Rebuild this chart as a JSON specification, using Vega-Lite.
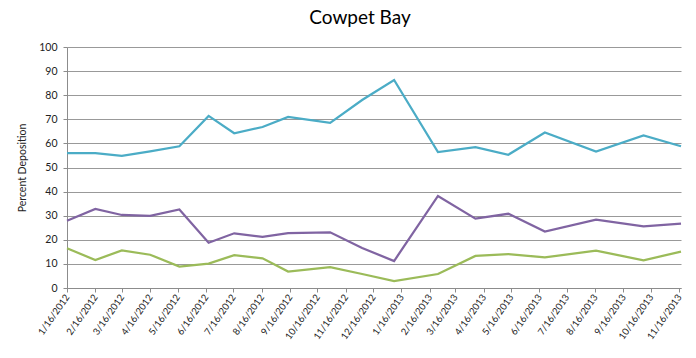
{
  "$schema": "https://vega.github.io/schema/vega-lite/v6.json",
  "autosize": "none",
  "width": 614,
  "height": 241,
  "padding": {"left": 67, "top": 47, "right": 15, "bottom": 70},
  "background": "white",
  "title": {"text": "Cowpet Bay", "font": "Lato", "fontSize": 19, "fontWeight": "normal", "color": "#000000", "anchor": "middle", "offset": 14, "dx": -14},
  "config": {"view": {"stroke": null}},
  "data": {"values": [
    {"date": "2012/01/16", "series": "S1", "value": 56.0},
    {"date": "2012/02/16", "series": "S1", "value": 56.0},
    {"date": "2012/03/16", "series": "S1", "value": 54.8},
    {"date": "2012/04/16", "series": "S1", "value": 56.7},
    {"date": "2012/05/18", "series": "S1", "value": 58.8},
    {"date": "2012/06/19", "series": "S1", "value": 71.4},
    {"date": "2012/07/17", "series": "S1", "value": 64.2},
    {"date": "2012/08/17", "series": "S1", "value": 66.8},
    {"date": "2012/09/14", "series": "S1", "value": 71.0},
    {"date": "2012/10/30", "series": "S1", "value": 68.5},
    {"date": "2012/12/04", "series": "S1", "value": 78.0},
    {"date": "2013/01/08", "series": "S1", "value": 86.3},
    {"date": "2013/02/25", "series": "S1", "value": 56.4},
    {"date": "2013/04/07", "series": "S1", "value": 58.4},
    {"date": "2013/05/13", "series": "S1", "value": 55.3},
    {"date": "2013/06/22", "series": "S1", "value": 64.5},
    {"date": "2013/08/17", "series": "S1", "value": 56.6},
    {"date": "2013/10/08", "series": "S1", "value": 63.3},
    {"date": "2013/11/18", "series": "S1", "value": 58.8},
    {"date": "2012/01/16", "series": "S2", "value": 27.9},
    {"date": "2012/02/16", "series": "S2", "value": 32.8},
    {"date": "2012/03/16", "series": "S2", "value": 30.3},
    {"date": "2012/04/16", "series": "S2", "value": 29.9},
    {"date": "2012/05/18", "series": "S2", "value": 32.6},
    {"date": "2012/06/19", "series": "S2", "value": 18.8},
    {"date": "2012/07/17", "series": "S2", "value": 22.7},
    {"date": "2012/08/17", "series": "S2", "value": 21.2},
    {"date": "2012/09/14", "series": "S2", "value": 22.8},
    {"date": "2012/10/30", "series": "S2", "value": 23.1},
    {"date": "2012/12/04", "series": "S2", "value": 16.6},
    {"date": "2013/01/08", "series": "S2", "value": 11.2},
    {"date": "2013/02/25", "series": "S2", "value": 38.2},
    {"date": "2013/04/07", "series": "S2", "value": 28.8},
    {"date": "2013/05/13", "series": "S2", "value": 30.8},
    {"date": "2013/06/22", "series": "S2", "value": 23.4},
    {"date": "2013/08/17", "series": "S2", "value": 28.4},
    {"date": "2013/10/08", "series": "S2", "value": 25.6},
    {"date": "2013/11/18", "series": "S2", "value": 26.7},
    {"date": "2012/01/16", "series": "S3", "value": 16.5},
    {"date": "2012/02/16", "series": "S3", "value": 11.6},
    {"date": "2012/03/16", "series": "S3", "value": 15.6},
    {"date": "2012/04/16", "series": "S3", "value": 13.8},
    {"date": "2012/05/18", "series": "S3", "value": 8.9},
    {"date": "2012/06/19", "series": "S3", "value": 10.1},
    {"date": "2012/07/17", "series": "S3", "value": 13.6},
    {"date": "2012/08/17", "series": "S3", "value": 12.3},
    {"date": "2012/09/14", "series": "S3", "value": 6.8},
    {"date": "2012/10/30", "series": "S3", "value": 8.7},
    {"date": "2012/12/04", "series": "S3", "value": 5.8},
    {"date": "2013/01/08", "series": "S3", "value": 2.9},
    {"date": "2013/02/25", "series": "S3", "value": 5.8},
    {"date": "2013/04/07", "series": "S3", "value": 13.3},
    {"date": "2013/05/13", "series": "S3", "value": 14.1},
    {"date": "2013/06/22", "series": "S3", "value": 12.7},
    {"date": "2013/08/17", "series": "S3", "value": 15.5},
    {"date": "2013/10/08", "series": "S3", "value": 11.5},
    {"date": "2013/11/18", "series": "S3", "value": 15.1}
  ]},
  "mark": {"type": "line", "strokeWidth": 2.25, "strokeJoin": "miter", "strokeCap": "butt"},
  "encoding": {
    "x": {
      "field": "date", "type": "temporal",
      "scale": {"domain": [{"year": 2012, "month": 1, "date": 16}, {"year": 2013, "month": 11, "date": 18}]},
      "axis": {
        "title": null,
        "grid": false,
        "values": [
          {"year": 2012, "month": 1, "date": 16}, {"year": 2012, "month": 2, "date": 16}, {"year": 2012, "month": 3, "date": 16},
          {"year": 2012, "month": 4, "date": 16}, {"year": 2012, "month": 5, "date": 16}, {"year": 2012, "month": 6, "date": 16},
          {"year": 2012, "month": 7, "date": 16}, {"year": 2012, "month": 8, "date": 16}, {"year": 2012, "month": 9, "date": 16},
          {"year": 2012, "month": 10, "date": 16}, {"year": 2012, "month": 11, "date": 16}, {"year": 2012, "month": 12, "date": 16},
          {"year": 2013, "month": 1, "date": 16}, {"year": 2013, "month": 2, "date": 16}, {"year": 2013, "month": 3, "date": 16},
          {"year": 2013, "month": 4, "date": 16}, {"year": 2013, "month": 5, "date": 16}, {"year": 2013, "month": 6, "date": 16},
          {"year": 2013, "month": 7, "date": 16}, {"year": 2013, "month": 8, "date": 16}, {"year": 2013, "month": 9, "date": 16},
          {"year": 2013, "month": 10, "date": 16}, {"year": 2013, "month": 11, "date": 16}
        ],
        "format": "%-m/%-d/%Y",
        "labelAngle": -55,
        "labelFont": "Lato",
        "labelFontSize": 9.5,
        "labelColor": "#222222",
        "labelPadding": 3,
        "labelOverlap": false,
        "labelFlush": false,
        "domainColor": "#8c8c8c",
        "tickColor": "#8c8c8c",
        "tickSize": 4
      }
    },
    "y": {
      "field": "value", "type": "quantitative",
      "scale": {"domain": [0, 100], "nice": false},
      "axis": {
        "title": "Percent Deposition",
        "titleFont": "Lato",
        "titleFontSize": 10.5,
        "titleFontWeight": "normal",
        "titleColor": "#222222",
        "titlePadding": 11,
        "values": [0, 10, 20, 30, 40, 50, 60, 70, 80, 90, 100],
        "labelFont": "Lato",
        "labelFontSize": 10.5,
        "labelColor": "#222222",
        "labelPadding": 6,
        "gridColor": "#999999",
        "gridWidth": 1,
        "domainColor": "#8c8c8c",
        "tickColor": "#8c8c8c",
        "tickSize": 4
      }
    },
    "color": {
      "field": "series", "type": "nominal",
      "scale": {"domain": ["S1", "S2", "S3"], "range": ["#4BACC6", "#8064A2", "#9BBB59"]},
      "legend": null
    }
  }
}
